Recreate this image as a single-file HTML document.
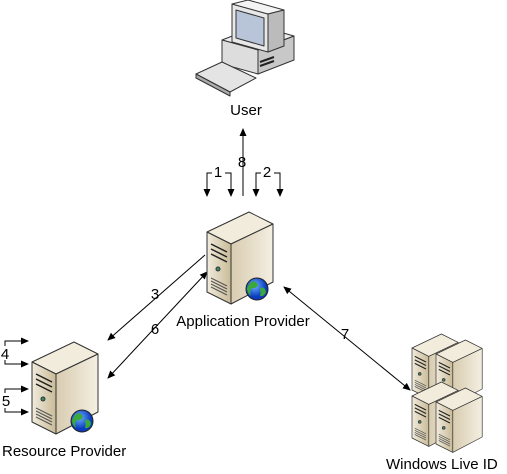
<!DOCTYPE html>
<html><head><style>body{margin:0;background:#fff}svg{display:block}text{font-family:"Liberation Sans",sans-serif;font-size:15px;fill:#000}</style></head><body>
<svg width="507" height="474" viewBox="0 0 507 474">
<defs>
<marker id="a" markerWidth="8" markerHeight="8" refX="7" refY="4" orient="auto" markerUnits="userSpaceOnUse"><path d="M0,0.5 L8,4 L0,7.5z" fill="#000"/></marker>
<marker id="s" markerWidth="8" markerHeight="8" refX="1" refY="4" orient="auto" markerUnits="userSpaceOnUse"><path d="M8,0.5 L0,4 L8,7.5z" fill="#000"/></marker>
<linearGradient id="sd" x1="0" x2="1"><stop offset="0" stop-color="#d8ccb0"/><stop offset="1" stop-color="#f4efe2"/></linearGradient>
<linearGradient id="fr" x1="0" x2="1"><stop offset="0" stop-color="#f1ebdc"/><stop offset="1" stop-color="#c9bb98"/></linearGradient>
<radialGradient id="gl" cx="0.4" cy="0.35"><stop offset="0" stop-color="#6ab0ff"/><stop offset="1" stop-color="#0b3cc0"/></radialGradient>
<g id="srv" stroke="#333" stroke-width="1" stroke-linejoin="round">
<polygon points="0,20 42,0 66,12 24,32" fill="#f2ecdc"/>
<polygon points="0,20 24,32 24,92 0,80" fill="url(#fr)"/>
<polygon points="24,32 66,12 66,70 24,92" fill="url(#sd)"/>
<path d="M4,32 L20,40 M4,37 L20,45 M4,42 L20,50" stroke="#222" stroke-width="1.5"/>
<circle cx="11" cy="57" r="2" fill="#3a8a6a" stroke="#333"/>
<path d="M4,66 L20,74 M4,69 L20,77 M4,72 L20,80 M4,75 L20,83" stroke="#555"/>
</g>
<g id="glb"><circle r="11" fill="url(#gl)" stroke="#222"/><path d="M-6,-7 q5,-2 7,3 q-2,4 -6,3 q-3,3 -1,8 q-4,-3 -4,-8z M3,-1 q5,-2 6,4 q-2,5 -6,4 q1,-4 0,-8z" fill="#3aa83a"/></g>
</defs>
<!-- computer -->
<g stroke="#333" stroke-linejoin="round">
<polygon points="222,40 258,50 294,36 258,26" fill="#eee"/>
<polygon points="222,40 258,50 258,74 222,64" fill="#ddd"/>
<polygon points="258,50 294,36 294,60 258,74" fill="#c8c8c8"/>
<polygon points="232,4 268,14 268,52 232,42" fill="#e8e8e8"/>
<polygon points="236,10 264,18 264,46 236,38" fill="#b8c4d8"/>
<polygon points="232,4 248,0 284,10 268,14" fill="#f4f4f4"/>
<polygon points="268,14 284,10 284,46 268,52" fill="#bbb"/>
<polygon points="196,74 222,62 256,78 230,92" fill="#e4e4e4"/>
<polygon points="196,74 230,92 230,96 196,78" fill="#aaa"/>
</g>
<path d="M260,62 L274,57 M260,66 L274,61" stroke="#222" stroke-width="2"/>
<text x="246" y="115" text-anchor="middle">User</text>
<g stroke="#000" stroke-width="1" fill="none">
<line x1="243" y1="196" x2="243" y2="129" marker-end="url(#a)"/>
<path d="M207,196 V173 H212 M225,173 H231 V196" marker-end="url(#a)"/>
<line x1="207" y1="185" x2="207" y2="196" marker-end="url(#a)"/>
<path d="M256,196 V173 H261 M274,173 H280 V196" marker-end="url(#a)"/>
<line x1="256" y1="185" x2="256" y2="196" marker-end="url(#a)"/>
<line x1="205" y1="255" x2="108" y2="340" marker-end="url(#a)"/>
<line x1="207" y1="272" x2="108" y2="378" marker-start="url(#s)" marker-end="url(#a)"/>
<line x1="284" y1="287" x2="410" y2="390" marker-start="url(#s)" marker-end="url(#a)"/>
<path d="M5,346 V341 H28" marker-end="url(#a)"/><path d="M5,360 V364 H28" marker-end="url(#a)"/>
<path d="M5,393 V389 H28" marker-end="url(#a)"/><path d="M5,408 V412 H28" marker-end="url(#a)"/>
</g>
<text x="242" y="167" text-anchor="middle">8</text>
<text x="218" y="177" text-anchor="middle">1</text>
<text x="267" y="177" text-anchor="middle">2</text>
<text x="155" y="299" text-anchor="middle">3</text>
<text x="155" y="334" text-anchor="middle">6</text>
<text x="345" y="339" text-anchor="middle">7</text>
<text x="5" y="359" text-anchor="middle">4</text>
<text x="6" y="406" text-anchor="middle">5</text>
<use href="#srv" x="207" y="212"/>
<use href="#glb" x="257" y="289"/>
<text x="243" y="326" text-anchor="middle">Application Provider</text>
<use href="#srv" x="32" y="342"/>
<use href="#glb" x="82" y="421"/>
<text x="2" y="456">Resource Provider</text>
<g transform="translate(412,334) scale(0.7)"><use href="#srv" x="0" y="0"/></g>
<g transform="translate(436,340) scale(0.7)"><use href="#srv" x="0" y="0"/></g>
<g transform="translate(412,382) scale(0.7)"><use href="#srv" x="0" y="0"/></g>
<g transform="translate(436,388) scale(0.7)"><use href="#srv" x="0" y="0"/></g>
<text x="386" y="469">Windows Live ID</text>
</svg>
</body></html>
